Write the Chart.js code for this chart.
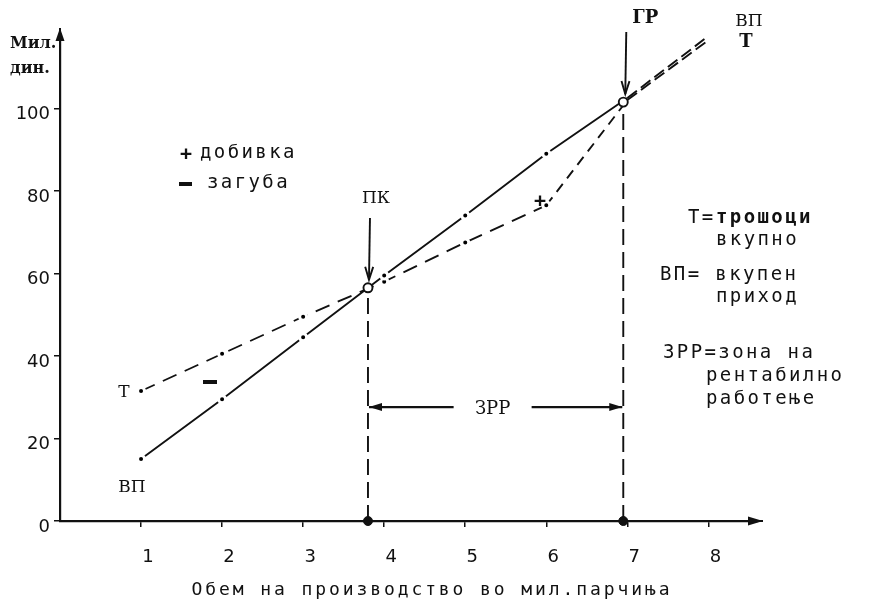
<!DOCTYPE html>
<html>
<head>
<meta charset="utf-8">
<script src="https://cdn.jsdelivr.net/npm/chart.js@4.4.1/dist/chart.umd.min.js"></script>
<style>
html, body { margin: 0; padding: 0; background: #fff; }
#okvir { width: 872px; height: 609px; }
</style>
</head>
<body>
<div id="okvir"><canvas id="grafik" width="872" height="609"></canvas></div>
<script>
// podatoci odcitani od grafikot
const kolicina = [1, 2, 3, 4, 5, 6, 7, 8];                         // mil. parcinja
const vkupenPrihod = [15, 29.5, 44.5, 59.5, 74, 89, 102.5, 117.5];  // ВП
const vkupniTroshoci = [31.5, 40.5, 49.5, 58, 67.5, 76.5, 102, 116.5]; // Т
const xTicks = [1, 2, 3, 4, 5, 6, 7, 8];
const yTicks = [0, 20, 40, 60, 80, 100];
const tockiX = [3.8, 6.95];     // ПК, ГР
const tockiY = [56.5, 101.5];
const visinaZrp = 27.6;         // visina na strelkata ЗРР

const CRNA = '#111';
const mono = '"DejaVu Sans Mono", monospace';
const serif = '"DejaVu Serif", serif';

Chart.defaults.color = CRNA;
Chart.defaults.font.family = '"DejaVu Sans", sans-serif';

const toXY = (xs, ys) => xs.map((v, i) => ({ x: v, y: ys[i] }));

// crti po segmenti
const crtaVP = [[], [], [], [], [], [], [12, 5]];
const crtaT = [[15, 9], [15, 9], [15, 9], [15, 9], [15, 9], [10, 7], [12, 5]];
const tockaR = [3.5, 3.5, 3.5, 3.5, 3.5, 3.5, 0, 0];

const tekst = (ctx, s, px, py, font, align, sp) => {
    ctx.font = font;
    ctx.textAlign = align || 'left';
    ctx.textBaseline = 'alphabetic';
    ctx.letterSpacing = sp || '0px';
    ctx.fillText(s, px, py);
    ctx.letterSpacing = '0px';
};

const strelka = (ctx, x1, y1, x2, y2, dolz, shir, polna) => {
    const ag = Math.atan2(y2 - y1, x2 - x1);
    ctx.beginPath();
    ctx.moveTo(x1, y1);
    ctx.lineTo(x2, y2);
    ctx.stroke();
    ctx.beginPath();
    ctx.moveTo(x2 - dolz * Math.cos(ag) + shir * Math.sin(ag), y2 - dolz * Math.sin(ag) - shir * Math.cos(ag));
    ctx.lineTo(x2, y2);
    ctx.lineTo(x2 - dolz * Math.cos(ag) - shir * Math.sin(ag), y2 - dolz * Math.sin(ag) + shir * Math.cos(ag));
    if (polna) { ctx.closePath(); ctx.fill(); } else { ctx.stroke(); }
};

const beleski = {
    id: 'beleski',
    afterDraw(chart) {
        const { ctx, chartArea: a, scales: { x, y } } = chart;
        ctx.save();
        ctx.fillStyle = CRNA;
        ctx.strokeStyle = CRNA;
        ctx.lineWidth = 2;
        ctx.setLineDash([]);

        // strelki na oskite
        strelka(ctx, a.left, a.top + 2, a.left, 28, 13, 4.5, true);
        strelka(ctx, a.right - 2, a.bottom, 763, a.bottom, 15, 4.5, true);

        // ПК i ГР strelki
        const pkx = x.getPixelForValue(tockiX[0]), pky = y.getPixelForValue(tockiY[0]);
        const grx = x.getPixelForValue(tockiX[1]), gry = y.getPixelForValue(tockiY[1]);
        ctx.lineWidth = 1.9;
        strelka(ctx, pkx + 2, 218, pkx + 1, pky - 8, 13, 4, false);
        strelka(ctx, grx + 3, 32, grx + 2, gry - 8, 13, 4, false);
        tekst(ctx, 'ПК', pkx + 8, 203, '17px ' + serif, 'center');
        tekst(ctx, 'ГР', grx + 22, 23, 'bold 18px ' + serif, 'center');

        // ЗРР
        const zy = y.getPixelForValue(visinaZrp);
        const sred = (pkx + grx) / 2;
        ctx.lineWidth = 2.2;
        strelka(ctx, sred - 42, zy, pkx + 1, zy, 13, 4, true);
        strelka(ctx, sred + 36, zy, grx - 1, zy, 13, 4, true);
        tekst(ctx, 'ЗРР', sred - 3, zy + 7, '18px ' + serif, 'center');

        // oznaki na linii
        tekst(ctx, 'Т', 124, 397, '17px ' + serif, 'center');
        tekst(ctx, 'ВП', 132, 492, '17px ' + serif, 'center');
        tekst(ctx, 'ВП', 749, 26, '17px ' + serif, 'center');
        tekst(ctx, 'Т', 746, 47, 'bold 18px ' + serif, 'center');
        ctx.fillRect(203, 380, 14, 4);
        tekst(ctx, '+', 540, 207, 'bold 20px ' + mono, 'center');

        // edinica na y oskata
        tekst(ctx, 'Мил.', 10, 48, 'bold 16px ' + serif, 'left');
        tekst(ctx, 'дин.', 10, 73, 'bold 16px ' + serif, 'left');

        // dobivka / zaguba
        const sp = '2.4px';
        tekst(ctx, '+', 186, 160, 'bold 20px ' + mono, 'center');
        tekst(ctx, 'добивка', 200, 158, '19px ' + mono, 'left', sp);
        ctx.fillRect(179, 182, 13, 4);
        tekst(ctx, 'загуба', 207, 188, '19px ' + mono, 'left', sp);

        // objasnuvanja desno
        tekst(ctx, 'Т=', 688, 223, '19px ' + mono, 'left', sp);
        tekst(ctx, 'трошоци', 716, 223, 'bold 19px ' + mono, 'left', sp);
        tekst(ctx, 'вкупно', 716, 245, '19px ' + mono, 'left', sp);
        tekst(ctx, 'ВП= вкупен', 660, 280, '19px ' + mono, 'left', sp);
        tekst(ctx, 'приход', 716, 302, '19px ' + mono, 'left', sp);
        tekst(ctx, 'ЗРР=зона на', 663, 358, '19px ' + mono, 'left', sp);
        tekst(ctx, 'рентабилно', 706, 381, '19px ' + mono, 'left', sp);
        tekst(ctx, 'работење', 706, 404, '19px ' + mono, 'left', sp);

        // naslov na x oskata
        tekst(ctx, 'Обем на производство во мил.парчиња', 432, 595, '18px ' + mono, 'center', '2.9px');
        ctx.restore();
    }
};

new Chart('grafik', {
    type: 'line',
    data: {
        datasets: [
            {
                label: 'кругчиња',
                type: 'scatter',
                data: toXY(tockiX, tockiY),
                pointRadius: 4.5,
                pointBackgroundColor: '#fff',
                pointBorderColor: CRNA,
                pointBorderWidth: 1.9,
                order: 0
            },
            {
                label: 'точки на оската',
                type: 'scatter',
                data: toXY(tockiX, tockiX.map(() => 0)),
                pointRadius: 4.5,
                pointBackgroundColor: CRNA,
                pointBorderColor: CRNA,
                clip: false,
                order: 0
            },
            {
                label: 'ВП',
                data: toXY(kolicina, vkupenPrihod),
                borderColor: CRNA,
                borderWidth: 1.9,
                tension: 0,
                pointRadius: tockaR,
                pointBackgroundColor: '#000',
                pointBorderColor: '#fff',
                pointBorderWidth: 3,
                segment: { borderDash: c => crtaVP[c.p0DataIndex] },
                order: 2
            },
            {
                label: 'Т',
                data: toXY(kolicina, vkupniTroshoci),
                borderColor: CRNA,
                borderWidth: 1.9,
                tension: 0,
                pointRadius: tockaR,
                pointBackgroundColor: '#000',
                pointBorderColor: '#fff',
                pointBorderWidth: 3,
                segment: { borderDash: c => crtaT[c.p0DataIndex] },
                order: 3
            },
            {
                label: 'ПК вертикала',
                data: [{ x: tockiX[0], y: 0 }, { x: tockiX[0], y: tockiY[0] }],
                borderColor: CRNA,
                borderWidth: 1.9,
                borderDash: [16, 7],
                pointRadius: 0,
                order: 4
            },
            {
                label: 'ГР вертикала',
                data: [{ x: tockiX[1], y: 0 }, { x: tockiX[1], y: tockiY[1] }],
                borderColor: CRNA,
                borderWidth: 1.9,
                borderDash: [16, 7],
                pointRadius: 0,
                order: 4
            }
        ]
    },
    options: {
        responsive: false,
        animation: false,
        devicePixelRatio: 1,
        events: [],
        layout: { padding: { top: 34, right: 115, left: 0, bottom: 0 } },
        plugins: { legend: { display: false }, tooltip: { enabled: false } },
        scales: {
            x: {
                type: 'linear',
                min: 0,
                max: 8.6,
                afterBuildTicks: s => { s.ticks = xTicks.map(v => ({ value: v })); },
                afterFit: s => { s.height = 88; },
                grid: { drawOnChartArea: false, drawTicks: true, tickLength: 6, color: CRNA, lineWidth: 1.5 },
                border: { display: true, color: CRNA, width: 2.2 },
                ticks: { font: { size: 18 }, padding: 20, labelOffset: 7, maxRotation: 0, autoSkip: false }
            },
            y: {
                type: 'linear',
                min: 0,
                max: 118,
                afterBuildTicks: s => { s.ticks = yTicks.map(v => ({ value: v })); },
                afterFit: s => { s.width = 60; },
                grid: { drawOnChartArea: false, drawTicks: true, tickLength: 6, color: CRNA, lineWidth: 1.5 },
                border: { display: true, color: CRNA, width: 2.2 },
                ticks: { font: { size: 18 }, padding: 4, labelOffset: 6, autoSkip: false }
            }
        }
    },
    plugins: [beleski]
});
</script>
</body>
</html>
